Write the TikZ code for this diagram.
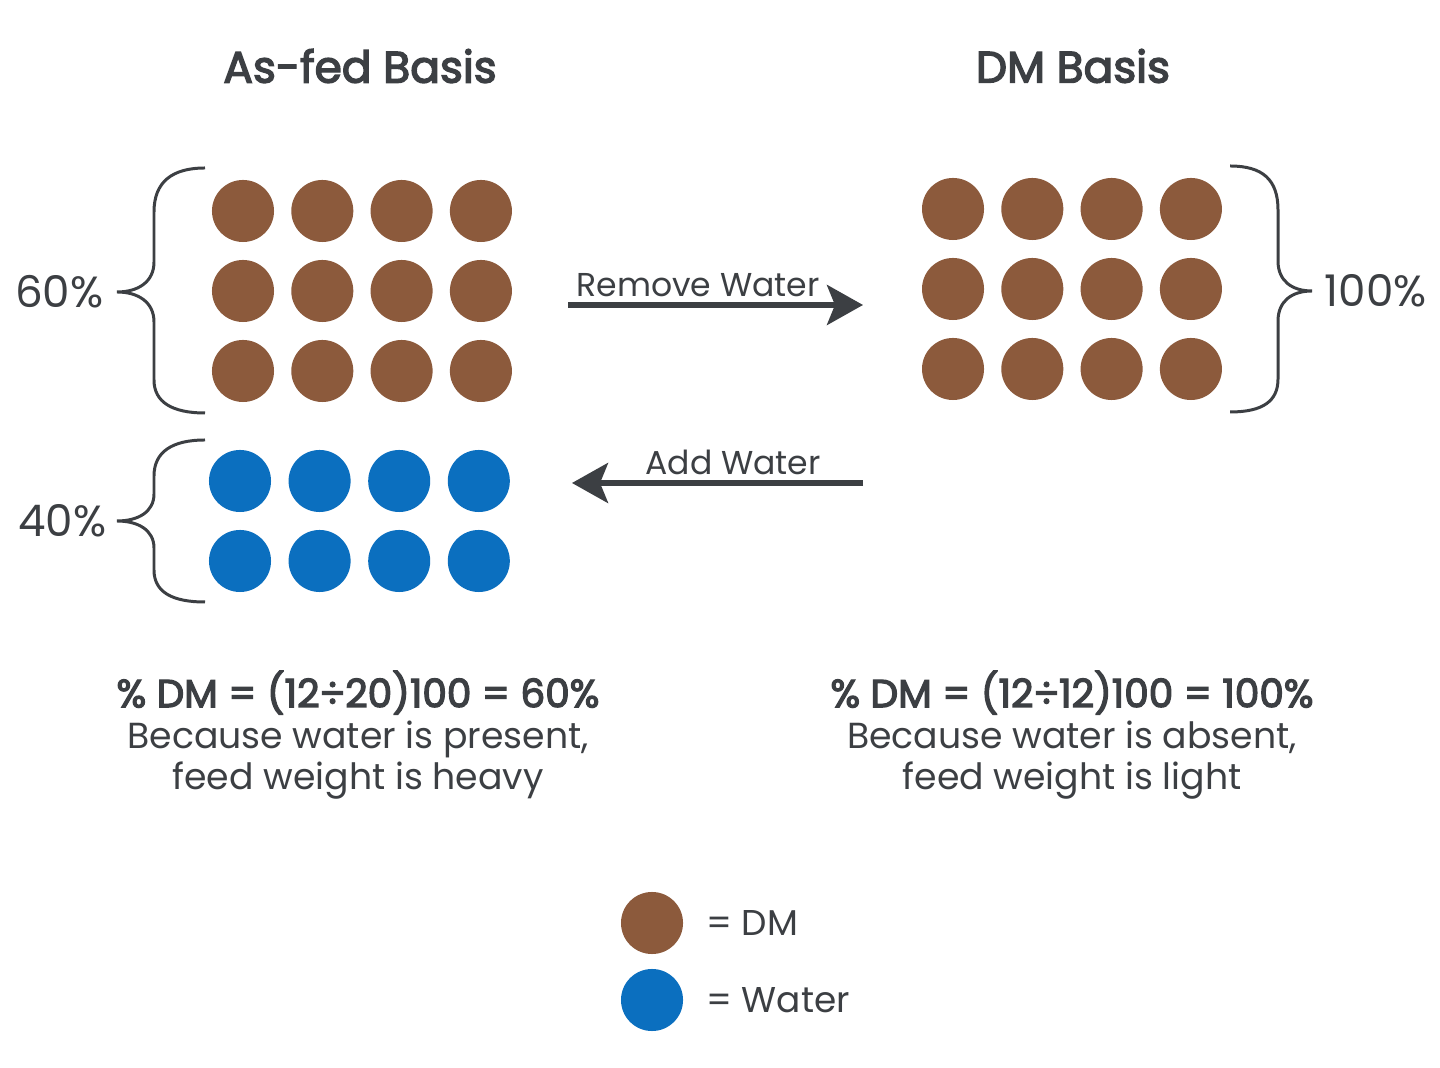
\documentclass[tikz,border=0pt]{standalone}
\usepackage{fontspec}
\setmainfont{Poppins}
\newfontfamily\semibold{Poppins}[FakeBold=3.2]
\usetikzlibrary{arrows.meta,positioning}
\definecolor{dmbrown}{HTML}{8C5A3C}
\definecolor{waterblue}{HTML}{0B6FBF}
\definecolor{ink}{HTML}{3C3F43}

\begin{document}
\begin{tikzpicture}[x=0.01cm,y=-0.01cm,
    dm/.style={circle,fill=dmbrown,minimum size=0.62cm,inner sep=0pt},
    water/.style={circle,fill=waterblue,minimum size=0.62cm,inner sep=0pt},
    title/.style={text=ink,font=\fontsize{12.5}{15}\selectfont\semibold},
    note/.style={text=ink,align=center,font=\fontsize{10.3}{11.7}\selectfont},
    pct/.style={text=ink,inner sep=0pt,font=\fontsize{12.4}{14}\selectfont},
    key/.style={text=ink,inner sep=0pt,font=\fontsize{10.2}{13}\selectfont},
    lbl/.style={text=ink,font=\fontsize{9.4}{11}\selectfont},
    brace/.style={draw=ink,line width=0.85pt},
    flow/.style={draw=ink,line width=1.5pt,-{Stealth[length=0.36cm,width=0.40cm,inset=0.08cm]}}]
    \useasboundingbox[fill=white] (0,0) rectangle (1440,1068);

    % titles
    \node[title] (asfedT) at (360,66) {As-fed Basis};
    \node[title] (dmT) at (1073,66) {DM Basis};

    % dots
    \foreach \r in {1,2,3}{
        \foreach \c in {1,...,4}{
            \node[dm] (af-\r-\c) at ({243+79.3*(\c-1)},{211+80*(\r-1)}) {};
            \node[dm] (db-\r-\c) at ({953+79.3*(\c-1)},{209+80*(\r-1)}) {};
        }
    }
    \foreach \r in {1,2}{
        \foreach \c in {1,...,4}{
            \node[water] (wa-\r-\c) at ({240+79.6*(\c-1)},{481+80*(\r-1)}) {};
        }
    }

    % braces
    \draw[brace] (205,168) .. controls (172,168) and (154,182) .. (154,212)
        -- (154,262) .. controls (154,282) and (138,292) .. (117,292)
        .. controls (138,292) and (154,302) .. (154,322)
        -- (154,380) .. controls (154,402) and (172,413) .. (205,413);
    \draw[brace] (205,440) .. controls (172,440) and (154,452) .. (154,476)
        -- (154,494) .. controls (154,512) and (138,521) .. (117,521)
        .. controls (138,521) and (154,530) .. (154,548)
        -- (154,570) .. controls (154,592) and (172,602) .. (205,602);
    \draw[brace] (1230,166) .. controls (1263,166) and (1278,180) .. (1278,210)
        -- (1278,261) .. controls (1278,281) and (1292,291) .. (1312,291)
        .. controls (1292,291) and (1278,301) .. (1278,321)
        -- (1278,379) .. controls (1278,401) and (1263,412) .. (1230,412);
    \node[pct,anchor=east] (p60) at (104,292) {60\%};
    \node[pct,anchor=east] (p40) at (107,521) {40\%};
    \node[pct,anchor=west] (p100) at (1324,291) {100\%};

    % arrows
    \coordinate (rmA) at (568,305);
    \coordinate (rmB) at (863,305);
    \coordinate (adA) at (863,483);
    \coordinate (adB) at (572,483);
    \draw[flow] (rmA) -- (rmB);
    \draw[flow] (adA) -- (adB);
    \node[lbl] (rmL) at (698,285) {Remove Water};
    \node[lbl] (adL) at (733,462) {Add Water};

    % notes
    \node[note] (asfedN) at (358,735) {{\semibold\fontsize{11.1}{11.7}\selectfont\% DM = (12÷20)100 = 60\%}\\Because water is present,\\feed weight is heavy};
    \node[note] (dmN) at (1072,735) {{\semibold\fontsize{11.1}{11.7}\selectfont\% DM = (12÷12)100 = 100\%}\\Because water is absent,\\feed weight is light};

    % key
    \node[dm] (keyDM) at (652,923) {};
    \node[water] (keyW) at (652,1000) {};
    \node[key,right=0.22cm of keyDM] (keyDML) {= DM};
    \node[key,right=0.22cm of keyW] (keyWL) {= Water};
\end{tikzpicture}
\end{document}
